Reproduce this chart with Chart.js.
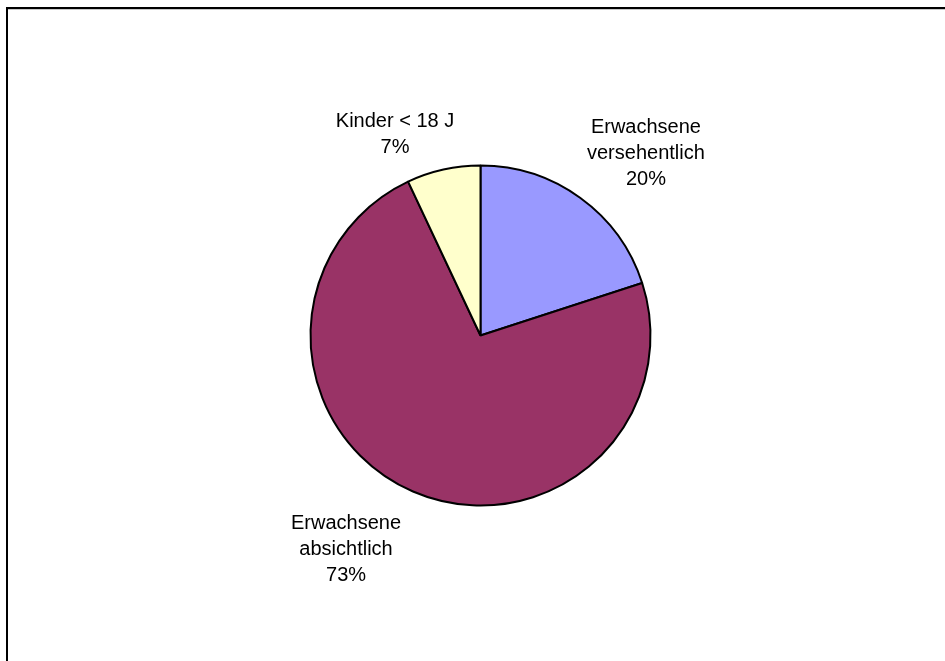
<!DOCTYPE html>
<html>
<head>
<meta charset="utf-8">
<script src="https://cdn.jsdelivr.net/npm/chart.js@4/dist/chart.umd.min.js"></script>
<style>
  html, body { margin: 0; padding: 0; background: #ffffff; }
  #wrap { width: 945px; height: 661px; }
</style>
</head>
<body>
<div id="wrap"><canvas id="c" width="945" height="661"></canvas></div>
<script>
// Categories and shares (percent), clockwise from 12 o'clock
const categories = [
  ['Erwachsene', 'versehentlich'],
  ['Erwachsene', 'absichtlich'],
  ['Kinder < 18 J']
];
const shares = [20, 73, 7];
const sliceColors = ['#9999FF', '#993366', '#FFFFCC'];

// Label block centres, relative to the pie centre in units of the radius
const anchors = [
  { fx: 0.973, fy: -1.071 },
  { fx: -0.791, fy: 1.257 },
  { fx: -0.503, fy: -1.183 }
];

// Outer frame: top and left edges of a box that runs off the canvas
const framePlugin = {
  id: 'frame',
  beforeDraw(chart) {
    const ctx = chart.ctx;
    ctx.save();
    ctx.fillStyle = '#ffffff';
    ctx.fillRect(0, 0, chart.width, chart.height);
    ctx.strokeStyle = '#c8c8c8';
    ctx.lineWidth = 1;
    ctx.beginPath();
    ctx.moveTo(8, 9.5);
    ctx.lineTo(chart.width + 10, 9.5);
    ctx.stroke();
    ctx.strokeStyle = '#000000';
    ctx.lineWidth = 2;
    ctx.strokeRect(7, 8, chart.width + 20, chart.height + 20);
    ctx.restore();
  }
};

// Category name and percentage drawn outside each slice
const labelPlugin = {
  id: 'sliceLabels',
  afterDatasetsDraw(chart) {
    const ctx = chart.ctx;
    const meta = chart.getDatasetMeta(0);
    const total = shares.reduce((a, b) => a + b, 0);
    ctx.save();
    ctx.font = '20px "Liberation Sans", Arial, sans-serif';
    ctx.fillStyle = '#000000';
    ctx.textAlign = 'center';
    ctx.textBaseline = 'middle';
    const lineH = 26;
    meta.data.forEach((arc, i) => {
      const { x, y, outerRadius } = arc.getProps(['x', 'y', 'outerRadius'], true);
      const pct = Math.round(shares[i] / total * 100) + '%';
      const lines = categories[i].concat([pct]);
      const cx = x + anchors[i].fx * outerRadius;
      const cy = y + anchors[i].fy * outerRadius;
      const top = cy - (lines.length - 1) * lineH / 2;
      lines.forEach((t, k) => ctx.fillText(t, cx, top + k * lineH));
    });
    ctx.restore();
  }
};

new Chart(document.getElementById('c'), {
  type: 'pie',
  data: {
    labels: categories.map(c => c.join(' ')),
    datasets: [{
      data: shares,
      backgroundColor: sliceColors,
      borderColor: '#000000',
      borderWidth: 2
    }]
  },
  options: {
    responsive: false,
    animation: false,
    radius: 170,
    layout: { padding: { left: 16, top: 10, right: 0, bottom: 0 } },
    plugins: {
      legend: { display: false },
      tooltip: { enabled: false }
    }
  },
  plugins: [framePlugin, labelPlugin]
});
</script>
</body>
</html>
